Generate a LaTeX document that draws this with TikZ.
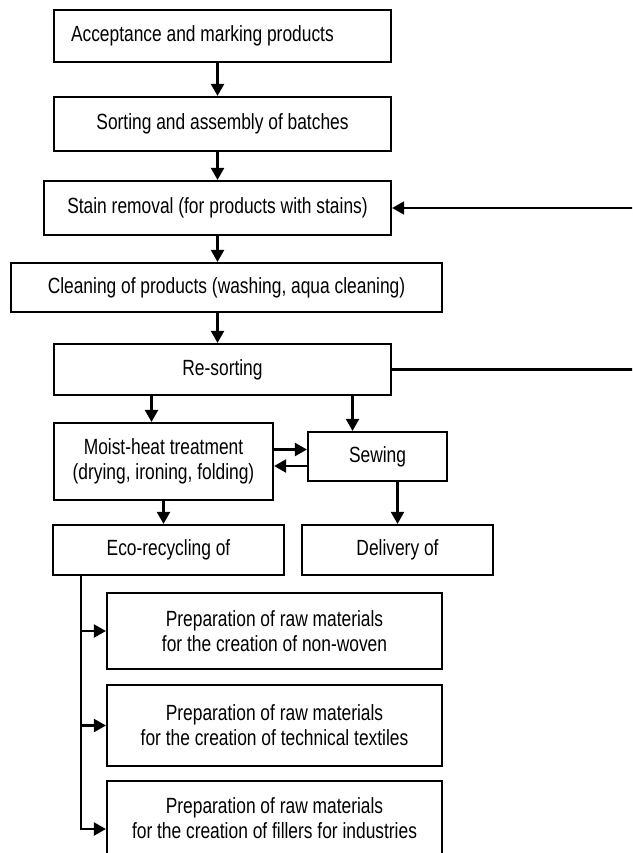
\documentclass[tikz,border=0pt]{standalone}
\usepackage{fontspec}
\setmainfont{Liberation Sans}[FakeStretch=0.79]
\usetikzlibrary{arrows.meta}

\tikzstyle{block}=[rectangle,draw,line width=2.2pt,inner sep=0pt,
align=center,font=\fontsize{22}{25}\selectfont]
\tikzstyle{line} = [draw, line width=2.2pt, color=black]
\tikzstyle{arrow} = [line, -{Triangle[length=12pt,width=13pt]}]

\begin{document}
\begin{tikzpicture}[x=1pt,y=-1pt]
\clip (0,0) rectangle (632,853);
\node [block,minimum width=337,minimum height=52,inner xsep=17pt] (accept) at (222.5,36) {\makebox[303pt][l]{Acceptance and marking products}};
\node [block,minimum width=337,minimum height=54] (sort) at (222.5,124) {Sorting and assembly of batches};
\node [block,minimum width=347,minimum height=54] (stain) at (217.5,208) {Stain removal (for products with stains)};
\node [block,minimum width=431,minimum height=49] (clean) at (226.5,287.5) {Cleaning of products (washing, aqua cleaning)};
\node [block,minimum width=337,minimum height=51] (resort) at (222.5,369.5) {Re-sorting};
\node [block,minimum width=219,minimum height=77] (moist) at (163.5,461.5) {Moist-heat treatment\\(drying, ironing, folding)};
\node [block,minimum width=139,minimum height=49] (sewing) at (377.5,456.5) {Sewing};
\node [block,minimum width=231,minimum height=50] (eco) at (168.5,550) {Eco-recycling of};
\node [block,minimum width=191,minimum height=50] (deliver) at (397.5,550) {Delivery of};
\node [block,minimum width=335,minimum height=76] (prepA) at (274.5,631) {Preparation of raw materials\\for the creation of non-woven};
\node [block,minimum width=335,minimum height=81] (prepB) at (274.5,725.5) {Preparation of raw materials\\for the creation of technical textiles};
\node [block,minimum width=335,minimum height=74] (prepC) at (274.5,818) {Preparation of raw materials\\for the creation of fillers for industries};
\coordinate (inA) at (640,208);
\coordinate (outA) at (640,367);
\coordinate (spine) at ([xshift=29pt]eco.south west);
% main chain
\path [arrow] (stain.north |- accept.south) -- (stain.north |- sort.north);
\path [arrow] (stain.north |- sort.south) -- (stain.north);
\path [arrow] (stain.south) -- (stain.south |- clean.north);
\path [arrow] (stain.south |- clean.south) -- (stain.south |- resort.north);
\path [arrow] (inA) -- (stain.east);
\path [line] (resort.east) -- (resort.east -| outA);
% after re-sorting
\path [arrow] ([xshift=-12pt]moist.north |- resort.south) -- ([xshift=-12pt]moist.north);
\path [arrow] ([xshift=-25pt]sewing.north |- resort.south) -- ([xshift=-25pt]sewing.north);
\path [arrow] ([yshift=12pt]moist.east) -- ([yshift=12pt]moist.east -| sewing.west);
\path [arrow] ([yshift=-4.5pt]moist.east -| sewing.west) -- ([yshift=-4.5pt]moist.east);
\path [arrow] (moist.south) -- (moist.south |- eco.north);
\path [arrow] (deliver.north |- sewing.south) -- (deliver.north);
% eco-recycling branches
\path [arrow] (spine) |- ([yshift=-11pt]prepC.west);
\path [arrow] (spine |- prepA.west) -- (prepA.west);
\path [arrow] (spine |- prepB.west) -- (prepB.west);
\end{tikzpicture}
\end{document}
